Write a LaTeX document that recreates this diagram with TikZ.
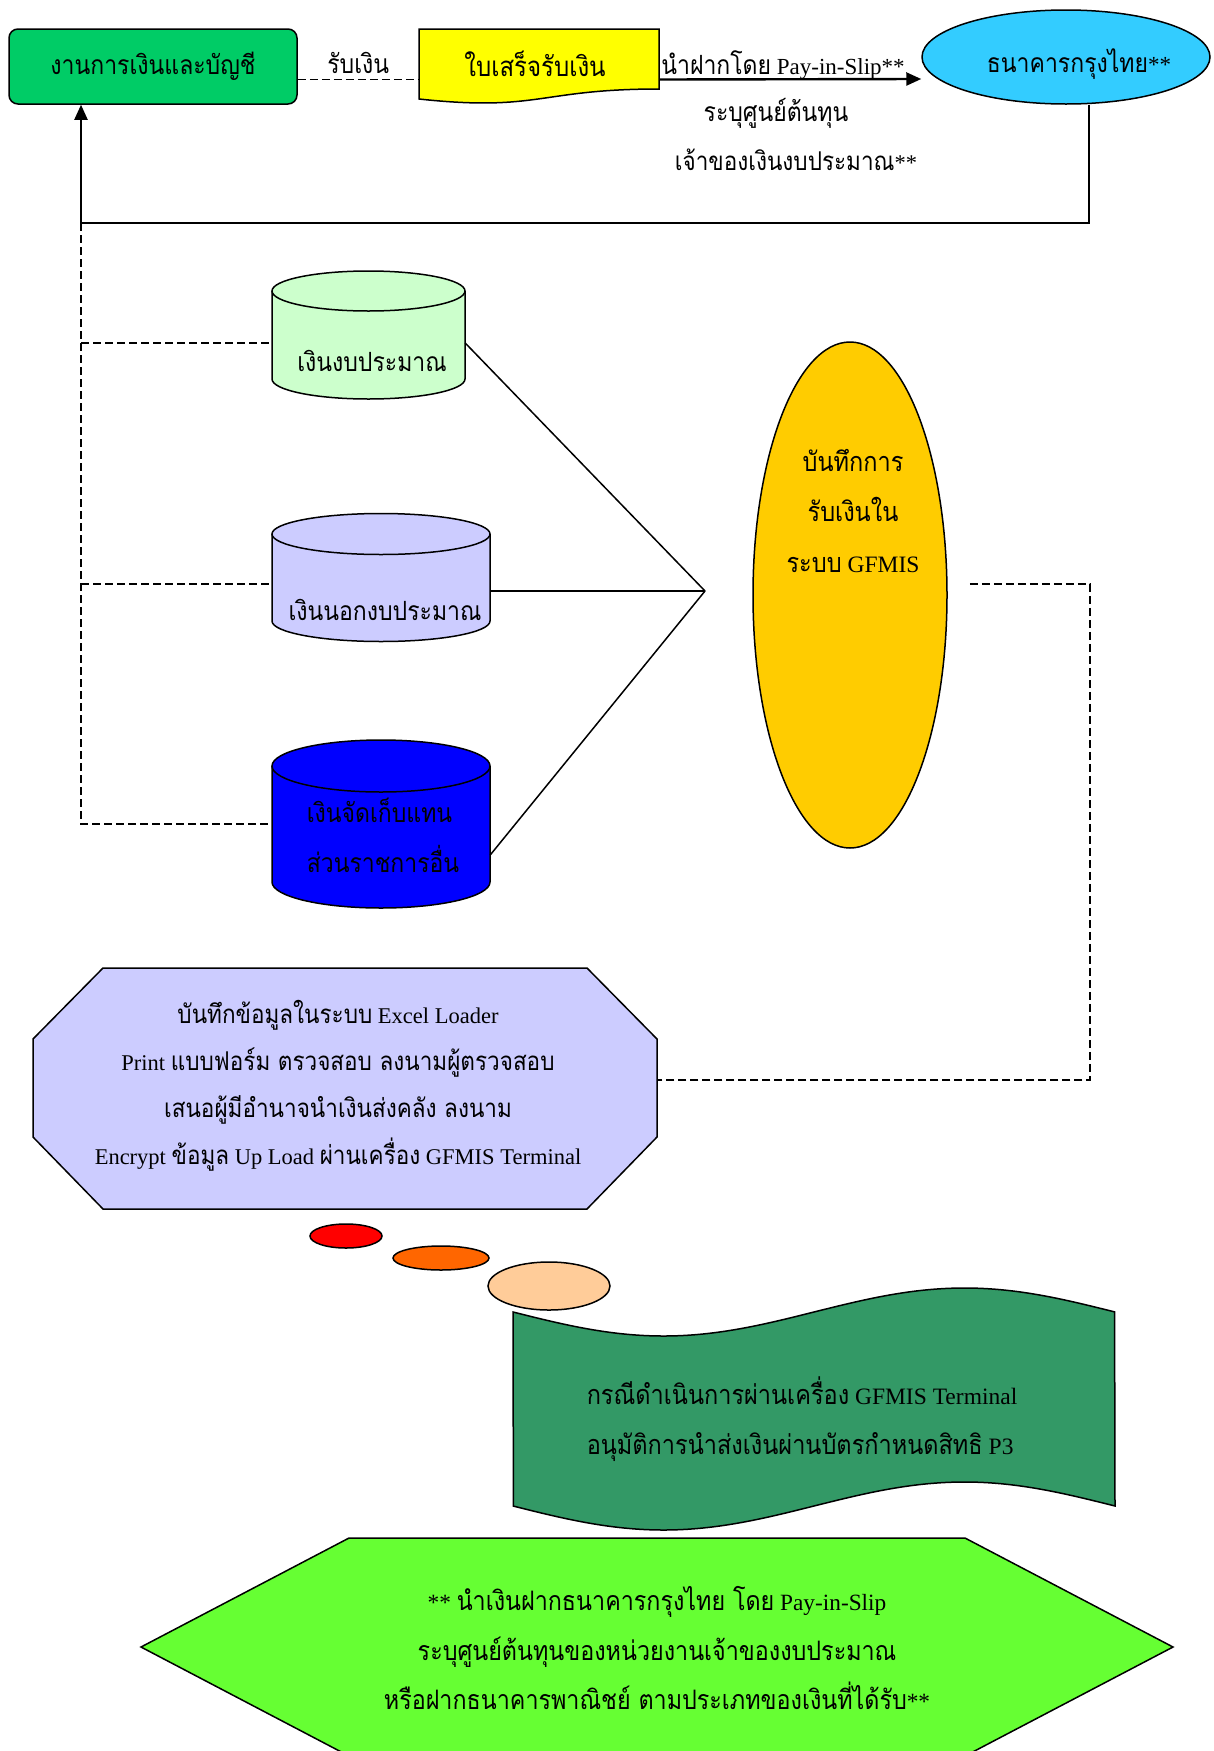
\documentclass[tikz,border=0pt]{standalone}
\usepackage{fontspec}
\setmainfont{Liberation Serif}
\newfontfamily\thai[Script=Thai, Scale=1.15, FakeStretch=0.87]{Loma}
\usetikzlibrary{shapes.geometric,arrows.meta,calc}
\newcommand\T[1]{{\thai #1}}
\definecolor{acctgreen}{HTML}{00CC66}
\definecolor{docyellow}{HTML}{FFFF00}
\definecolor{bankcyan}{HTML}{33CCFF}
\definecolor{cylgreen}{HTML}{CCFFCC}
\definecolor{lavender}{HTML}{CCCCFF}
\definecolor{cylblue}{HTML}{0000FF}
\definecolor{gfgold}{HTML}{FFCC00}
\definecolor{dotred}{HTML}{FF0000}
\definecolor{dotorange}{HTML}{FF6600}
\definecolor{dotpeach}{HTML}{FFCC99}
\definecolor{wavegreen}{HTML}{339966}
\definecolor{hexgreen}{HTML}{66FF33}
\tikzset{
  outl/.style={draw=black, line width=1.5pt},
  dashline/.style={line width=1.9pt, dash pattern=on 8pt off 4pt},
  plainline/.style={line width=1.5pt},
  txt/.style={inner sep=0pt, align=center},
  hidden/.style={inner sep=0pt, draw=none},
  tip/.style={-{Triangle[length=15pt,width=13pt]}},
}
\newcommand\fs{\fontsize{23}{46}\selectfont}
\begin{document}
\begin{tikzpicture}[x=1pt,y=-1pt,font=\fs]
\useasboundingbox (0,0) rectangle (1214,1751);
\fill[white] (0,0) rectangle (1214,1751);
\clip (0,0) rectangle (1214,1751);

% top row
\node[outl, fill=acctgreen, rounded corners=9pt, minimum width=288pt, minimum height=75pt, txt] (acct) at (153,66.5) {\T{งานการเงินและบัญชี}};
\fill[docyellow] (419,29) -- (659,29) -- (659,89) .. controls (539,89) and (539,112) .. (419,99) -- cycle;
\draw[outl] (419,29) -- (659,29) -- (659,89) .. controls (539,89) and (539,112) .. (419,99) -- cycle;
\node[hidden, minimum width=240pt, minimum height=75pt] (doc) at (539,66.5) {};
\node[txt, font=\fontsize{24}{46}\selectfont] (doct) at (535,64) {\T{ใบเสร็จรับเงิน}};
\node[outl, ellipse, fill=bankcyan, minimum width=288pt, minimum height=94pt] (bank) at (1066,57) {};
\node[txt] (bankt) at (1079,64) {\T{ธนาคารกรุงไทย}**};

\draw[dashline] ([yshift=-13pt]acct.east) -- ([yshift=-13pt]doc.west) node[midway, above=5pt, txt] (lblrecv) {\T{รับเงิน}};
\draw[line width=2.4pt, tip] ([yshift=-13pt]doc.east) -- ([yshift=-22pt]bank.west);
\node[txt] (lbldep) at (783,65) {\T{นำฝากโดย} Pay-in-Slip**};
\node[txt] (lblcc) at (776,113) {\T{ระบุศูนย์ต้นทุน}};
\node[txt, font=\fontsize{22.5}{46}\selectfont] (lblown) at (796,160) {\T{เจ้าของเงินงบประมาณ}**};

\coordinate (retL) at (81,223);
\draw[line width=2pt, tip] ([xshift=23pt]bank.south) |- (retL) -- (retL |- acct.south);

% cylinders
\fill[cylgreen] (272,291) -- (272,379) arc[start angle=180, end angle=0, x radius=96.5, y radius=20] -- (465,291) arc[start angle=0, end angle=-180, x radius=96.5, y radius=20] -- cycle;
\draw[outl] (272,291) -- (272,379) arc[start angle=180, end angle=0, x radius=96.5, y radius=20] -- (465,291);
\draw[outl] (368.5,291) ellipse[x radius=96.5, y radius=20];
\node[hidden, minimum width=193pt, minimum height=128pt] (cyl1) at (368.5,335) {};
\node[txt] (cyl1t) at (372,361) {\T{เงินงบประมาณ}};

\fill[lavender] (272,534) -- (272,621) arc[start angle=180, end angle=0, x radius=109, y radius=20.5] -- (490,534) arc[start angle=0, end angle=-180, x radius=109, y radius=20.5] -- cycle;
\draw[outl] (272,534) -- (272,621) arc[start angle=180, end angle=0, x radius=109, y radius=20.5] -- (490,534);
\draw[outl] (381,534) ellipse[x radius=109, y radius=20.5];
\node[hidden, minimum width=218pt, minimum height=128pt] (cyl2) at (381,578) {};
\node[txt] (cyl2t) at (385,610) {\T{เงินนอกงบประมาณ}};

\fill[cylblue] (272,766) -- (272,882) arc[start angle=180, end angle=0, x radius=109, y radius=26] -- (490,766) arc[start angle=0, end angle=-180, x radius=109, y radius=26] -- cycle;
\draw[outl] (272,766) -- (272,882) arc[start angle=180, end angle=0, x radius=109, y radius=26] -- (490,766);
\draw[outl] (381,766) ellipse[x radius=109, y radius=26];
\node[hidden, minimum width=218pt, minimum height=168pt] (cyl3) at (381,824) {};
\node[txt, align=left, font=\fontsize{23}{50}\selectfont] (cyl3t) at (383,835) {\T{เงินจัดเก็บแทน}\\\T{ส่วนราชการอื่น}};

% connection points
\coordinate (c1L) at ([yshift=-8pt]cyl1.west);
\coordinate (c2L) at ([yshift=-6pt]cyl2.west);
\coordinate (c1R) at ([yshift=-8pt]cyl1.east);
\coordinate (c2R) at ([yshift=-13pt]cyl2.east);
\coordinate (c3R) at ([yshift=-31pt]cyl3.east);

% dashed links from accounting
\draw[dashline] (retL) -- (retL |- cyl3.west) -- (cyl3.west);
\draw[dashline] (retL |- c1L) -- (c1L);
\draw[dashline] (retL |- c2L) -- (c2L);

% GFMIS ellipse and hub
\node[outl, ellipse, fill=gfgold, minimum width=194pt, minimum height=506pt] (gf) at (850,595) {};
\node[txt, font=\fontsize{23.5}{50.5}\selectfont] (gft) at (853,511) {\T{บันทึกการ}\\\T{รับเงินใน}\\\T{ระบบ} GFMIS};
\coordinate (hub) at (705,591);
\draw[plainline] (c1R) -- (hub);
\draw[plainline] (c2R) -- (hub);
\draw[plainline] (c3R) -- (hub);

% octagon
\fill[lavender] (103,968) -- (587,968) -- (657,1039) -- (657,1137) -- (587,1209) -- (103,1209) -- (33,1137) -- (33,1039) -- cycle;
\draw[outl] (103,968) -- (587,968) -- (657,1039) -- (657,1137) -- (587,1209) -- (103,1209) -- (33,1137) -- (33,1039) -- cycle;
\node[hidden, minimum width=624pt, minimum height=241pt] (oct) at (345,1088.5) {};
\node[txt, font=\fontsize{22.5}{47}\selectfont] (octt) at (338,1085.5) {\T{บันทึกข้อมูลในระบบ} Excel Loader\\
Print \T{แบบฟอร์ม ตรวจสอบ ลงนามผู้ตรวจสอบ}\\
\T{เสนอผู้มีอำนาจนำเงินส่งคลัง ลงนาม}\\
Encrypt \T{ข้อมูล} Up Load \T{ผ่านเครื่อง} GFMIS Terminal};

\coordinate (rc) at (1090,1080);
\coordinate (gfR) at ([xshift=22pt,yshift=11pt]gf.east);
\coordinate (octR) at ([yshift=8.5pt]oct.east);
\draw[dashline] (gfR) -| (rc) -- (octR);

% thought bubbles
\node[outl, ellipse, fill=dotred, minimum width=72pt, minimum height=24pt, inner sep=0pt] (b1) at (346,1236) {};
\node[outl, ellipse, fill=dotorange, minimum width=96pt, minimum height=24pt, inner sep=0pt] (b2) at (441,1258) {};
\node[outl, ellipse, fill=dotpeach, minimum width=122pt, minimum height=48pt, inner sep=0pt] (b3) at (549,1286) {};

% wave
\path[fill=wavegreen, outl] (513,1312) -- plot[domain=0:1, samples=80, smooth] ({513+602*\x},{1312+24*sin(360*\x)}) -- (1115,1506) -- plot[domain=1:0, samples=80, smooth] ({513+602*\x},{1506+24*sin(360*\x)}) -- cycle;
\node[hidden, minimum width=602pt, minimum height=194pt] (wave) at (814,1409) {};
\node[txt, align=left, font=\fontsize{23.5}{50}\selectfont] (wavet) at (802,1419) {\T{กรณีดำเนินการผ่านเครื่อง} GFMIS Terminal\\\T{อนุมัติการนำส่งเงินผ่านบัตรกำหนดสิทธิ} P3};

% hexagon
\fill[hexgreen] (349,1538) -- (965,1538) -- (1173,1647) -- (965,1756) -- (349,1756) -- (141,1647) -- cycle;
\draw[outl] (349,1538) -- (965,1538) -- (1173,1647) -- (965,1756) -- (349,1756) -- (141,1647) -- cycle;
\node[hidden, txt, font=\fontsize{23.3}{49.5}\selectfont] (hex) at (657,1648) {** \T{นำเงินฝากธนาคารกรุงไทย โดย} Pay-in-Slip\\
\T{ระบุศูนย์ต้นทุนของหน่วยงานเจ้าของงบประมาณ}\\
\T{หรือฝากธนาคารพาณิชย์ ตามประเภทของเงินที่ได้รับ}**};
\end{tikzpicture}
\end{document}
